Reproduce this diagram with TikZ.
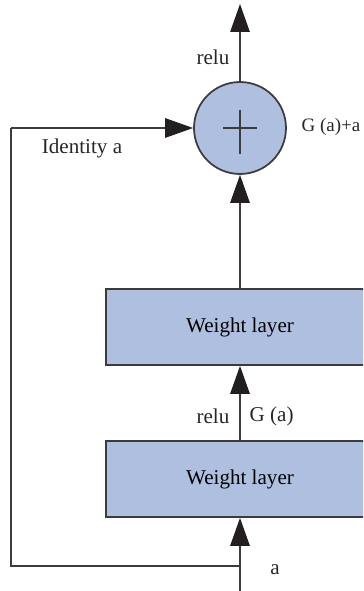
\documentclass[tikz,border=0pt]{standalone}
\usepackage{fontspec}
\setmainfont{Liberation Serif}
\usetikzlibrary{arrows.meta, calc}
\definecolor{cfill}{HTML}{AEBFE0}
\definecolor{cline}{HTML}{3C3C3C}
\definecolor{chead}{HTML}{231F20}
\tikzset{
  every picture/.style={font=\fontsize{12}{14}\selectfont, line width=0.75pt},
  layer/.style={draw=cline, fill=cfill, line width=1pt, minimum width=5.36cm, minimum height=1.52cm, inner sep=0pt},
  adder/.style={circle, draw=cline, fill=cfill, line width=1pt, minimum size=1.84cm, inner sep=0pt},
  arrow/.style={-{Triangle[length=5.6mm, width=3.9mm, color=chead]}, draw=cline},
  wire/.style={draw=cline},
  label/.style={inner sep=0pt, text=black!85},
}

\begin{document}
\begin{tikzpicture}[x=0.02cm, y=-0.02cm]
  \clip (0,0) rectangle (363,591);
  % blocks
  \node[adder] (sum) at (240,128) {};
  \node[layer] (wtop) at (240,327) {Weight layer};
  \node[layer] (wbot) at (240,479) {Weight layer};
  \draw[wire, line width=0.6pt] ($(sum.center)+(-17,0)$) -- ($(sum.center)+(17,0)$);
  \draw[wire, line width=0.6pt] ($(sum.center)+(0,-18)$) -- ($(sum.center)+(0,26)$);
  % free ends of the wires
  \coordinate (out) at (240,4);
  \coordinate (in) at (240,591);
  \coordinate (fork) at (240,566);
  \coordinate (lowleft) at (11,566);
  \coordinate (upleft) at (11,128);
  % connectors
  \draw[arrow] (in) -- (wbot.south);
  \draw[arrow] (wbot.north) -- (wtop.south);
  \draw[arrow] (wtop.north) -- (sum.south);
  \draw[arrow] (sum.north) -- (out);
  \draw[wire] (fork) -- (lowleft) -- (upleft);
  \draw[arrow] (upleft) -- (sum.west);
  % texts
  \node[label] (relutop) at (213,57) {relu};
  \node[label, anchor=east, font=\fontsize{10.8}{13}\selectfont] (sumtext) at (361,127) {G (a)+a};
  \node[label] (ident) at (82,148) {Identity a};
  \node[label] (relumid) at (213,416) {relu};
  \node[label, anchor=west] (gtext) at (249,416) {G (a)};
  \node[label] (intext) at (275,570) {a};
\end{tikzpicture}
\end{document}
